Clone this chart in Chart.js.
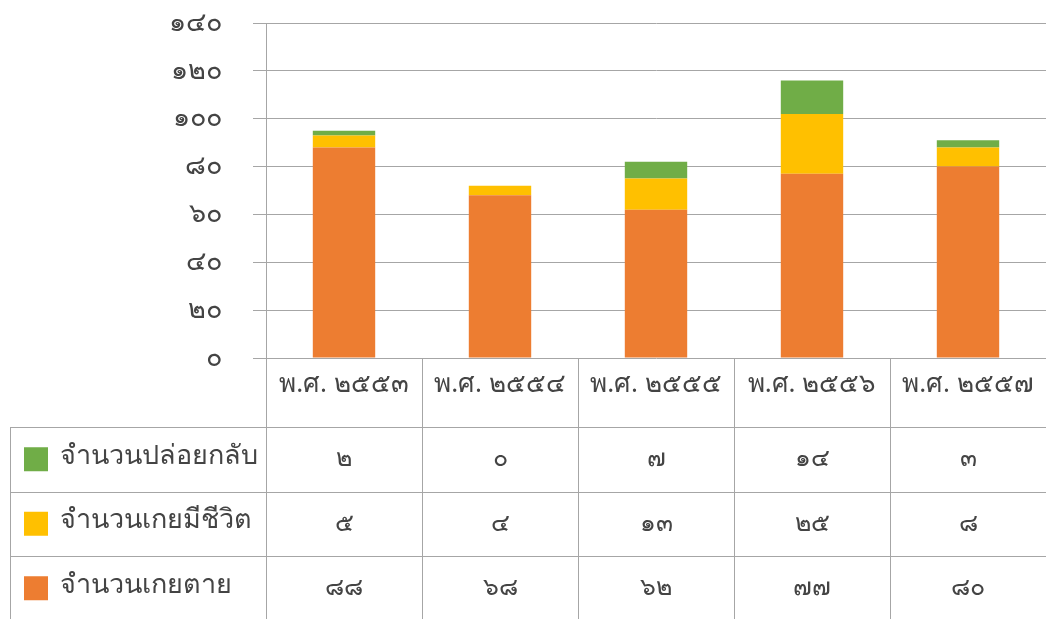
<!DOCTYPE html>
<html>
<head>
<meta charset="utf-8">
<script src="https://cdn.jsdelivr.net/npm/chart.js@4/dist/chart.umd.min.js"></script>
<style>
  body { margin: 0; background: #fff; }
  #wrap { width: 1046px; height: 619px; }
</style>
</head>
<body>
<div id="wrap"><canvas id="myChart" width="1046" height="619"></canvas></div>
<script>
let years = ["พ.ศ. ๒๕๕๓", "พ.ศ. ๒๕๕๔", "พ.ศ. ๒๕๕๕", "พ.ศ. ๒๕๕๖", "พ.ศ. ๒๕๕๗"];
let dead = [88, 68, 62, 77, 80];
let alive = [5, 4, 13, 25, 8];
let released = [2, 0, 7, 14, 3];
let yTicks = [0, 20, 40, 60, 80, 100, 120, 140];

const thaiFont = "'Noto Sans', 'DejaVu Sans', sans-serif";
const lineColor = "#a6a6a6";
const textColor = "#444444";

function thaiDigits(n) {
  const d = "๐๑๒๓๔๕๖๗๘๙";
  return String(n).replace(/[0-9]/g, (c) => d[+c]);
}

// table rows, top to bottom, same order as the stack seen from the top
let rows = [
  { label: "จำนวนปล่อยกลับ", color: "#70ad47", values: released },
  { label: "จำนวนเกยมีชีวิต", color: "#ffc000", values: alive },
  { label: "จำนวนเกยตาย", color: "#ed7d31", values: dead },
];

// draws the year header and data table under the plot
const dataTable = {
  id: "dataTable",
  afterDraw(chart) {
    const ctx = chart.ctx;
    const area = chart.chartArea;
    const x = chart.scales.x;
    const colW = (area.right - area.left) / years.length;
    const headH = 69;
    const rowH = 64.5;
    const tableTop = area.bottom + headH;
    const bottom = chart.height;

    ctx.save();
    ctx.strokeStyle = lineColor;
    ctx.lineWidth = 1;
    ctx.beginPath();
    for (let i = 0; i <= years.length; i++) {
      const lx = Math.round(area.left + i * colW) + 0.5;
      ctx.moveTo(lx, area.bottom);
      ctx.lineTo(lx, bottom);
    }
    ctx.moveTo(10.5, tableTop);
    ctx.lineTo(10.5, bottom);
    for (let r = 0; r < rows.length; r++) {
      const ly = Math.round(tableTop + r * rowH) + 0.5;
      ctx.moveTo(10, ly);
      ctx.lineTo(area.right, ly);
    }
    ctx.stroke();

    ctx.fillStyle = textColor;
    ctx.textAlign = "center";
    ctx.textBaseline = "middle";
    ctx.font = "26px " + thaiFont;
    years.forEach((y, i) => {
      ctx.fillText(y, x.getPixelForValue(i), area.bottom + 27);
    });

    rows.forEach((row, r) => {
      const cy = tableTop + r * rowH + rowH / 2;
      ctx.fillStyle = row.color;
      ctx.fillRect(24, cy - 12, 24, 24);
      ctx.fillStyle = textColor;
      ctx.textAlign = "left";
      ctx.font = "27px " + thaiFont;
      ctx.fillText(row.label, 60, cy - 3);
      ctx.textAlign = "center";
      ctx.font = "25px " + thaiFont;
      row.values.forEach((v, i) => {
        ctx.fillText(thaiDigits(v), x.getPixelForValue(i), cy);
      });
    });
    ctx.restore();
  },
};

let ctx = document.getElementById("myChart");

let chart = new Chart(ctx, {
  type: "bar",
  data: {
    labels: years,
    datasets: [
      { label: rows[2].label, data: dead, backgroundColor: rows[2].color },
      { label: rows[1].label, data: alive, backgroundColor: rows[1].color },
      { label: rows[0].label, data: released, backgroundColor: rows[0].color },
    ],
  },
  options: {
    responsive: false,
    animation: false,
    layout: { padding: { top: 23, bottom: 253, left: 0, right: 0 } },
    datasets: { bar: { barPercentage: 0.4, categoryPercentage: 1 } },
    plugins: { legend: { display: false }, tooltip: { enabled: false } },
    scales: {
      x: {
        stacked: true,
        ticks: { display: false },
        grid: { display: false },
        border: { display: false },
      },
      y: {
        stacked: true,
        min: yTicks[0],
        max: yTicks[yTicks.length - 1],
        ticks: {
          stepSize: 20,
          padding: 31,
          color: textColor,
          font: { family: thaiFont, size: 27 },
          callback: (v) => thaiDigits(v),
        },
        grid: { color: lineColor, tickLength: 13 },
        border: { color: lineColor },
        afterFit(scale) {
          scale.width = 266;
          scale.paddingTop = 0;
          scale.paddingBottom = 0;
        },
      },
    },
  },
  plugins: [dataTable],
});
</script>
</body>
</html>
